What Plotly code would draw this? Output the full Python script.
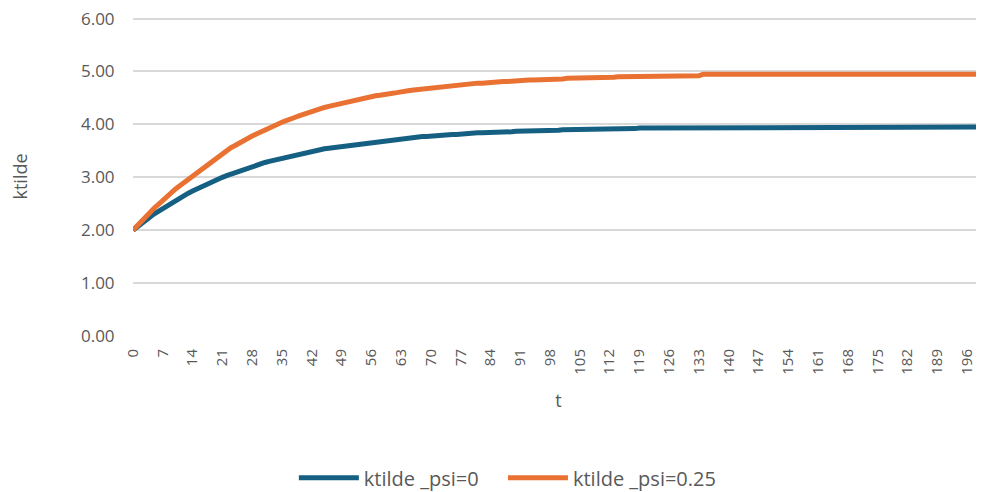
import plotly.graph_objects as go

t = list(range(0, 201))

ktilde_psi0 = [
    2.00, 2.07, 2.13, 2.19, 2.25, 2.31, 2.36, 2.42, 2.47, 2.52,
    2.56, 2.61, 2.66, 2.70, 2.74, 2.78, 2.82, 2.86, 2.90, 2.93,
    2.97, 3.00, 3.03, 3.06, 3.09, 3.12, 3.15, 3.18, 3.20, 3.23,
    3.25, 3.28, 3.30, 3.32, 3.34, 3.36, 3.38, 3.40, 3.42, 3.44,
    3.46, 3.47, 3.49, 3.51, 3.52, 3.54, 3.55, 3.56, 3.58, 3.59,
    3.60, 3.61, 3.63, 3.64, 3.65, 3.66, 3.67, 3.68, 3.69, 3.70,
    3.71, 3.71, 3.72, 3.73, 3.74, 3.74, 3.75, 3.76, 3.77, 3.77,
    3.78, 3.78, 3.79, 3.80, 3.80, 3.81, 3.81, 3.82, 3.82, 3.83,
    3.83, 3.84, 3.84, 3.84, 3.85, 3.85, 3.85, 3.86, 3.86, 3.86,
    3.87, 3.87, 3.87, 3.88, 3.88, 3.88, 3.89, 3.89, 3.89, 3.89,
    3.89, 3.90, 3.90, 3.90, 3.90, 3.90, 3.91, 3.91, 3.91, 3.91,
    3.91, 3.91, 3.92, 3.92, 3.92, 3.92, 3.92, 3.92, 3.92, 3.93,
    3.93, 3.93, 3.93, 3.93, 3.93, 3.93, 3.93,
    3.95, 3.95, 3.95, 3.95, 3.95, 3.95, 3.95, 3.95, 3.95, 3.95,
    3.95, 3.95, 3.95, 3.95, 3.95, 3.95, 3.95, 3.95, 3.95, 3.95,
    3.95, 3.95, 3.95, 3.95, 3.95, 3.95, 3.95, 3.95, 3.95, 3.95,
    3.95, 3.95, 3.95, 3.95, 3.95, 3.95, 3.95, 3.95, 3.95, 3.95,
    3.95, 3.95, 3.95, 3.95, 3.95, 3.95, 3.95, 3.95, 3.95, 3.95,
    3.95, 3.95, 3.95, 3.95, 3.95, 3.95, 3.95, 3.95, 3.95, 3.95,
    3.95, 3.95, 3.95, 3.95, 3.95, 3.95, 3.95, 3.95, 3.95, 3.95,
    3.95, 3.95, 3.95, 3.95,
]

ktilde_psi025 = [
    2.00, 2.09, 2.17, 2.26, 2.34, 2.42, 2.49, 2.57, 2.64, 2.71,
    2.78, 2.84, 2.90, 2.97, 3.03, 3.09, 3.16, 3.22, 3.28, 3.34,
    3.40, 3.45, 3.50, 3.56, 3.60, 3.65, 3.70, 3.74, 3.78, 3.82,
    3.86, 3.90, 3.94, 3.97, 4.01, 4.04, 4.07, 4.11, 4.13, 4.16,
    4.19, 4.22, 4.24, 4.27, 4.29, 4.32, 4.34, 4.36, 4.38, 4.40,
    4.42, 4.44, 4.46, 4.47, 4.49, 4.51, 4.52, 4.54, 4.55, 4.57,
    4.58, 4.59, 4.60, 4.62, 4.63, 4.64, 4.65, 4.66, 4.67, 4.68,
    4.69, 4.70, 4.71, 4.72, 4.73, 4.73, 4.74, 4.75, 4.76, 4.76,
    4.77, 4.78, 4.78, 4.79, 4.79, 4.80, 4.80, 4.81, 4.81, 4.82,
    4.82, 4.83, 4.83, 4.84, 4.84, 4.84, 4.85, 4.85, 4.85, 4.86,
    4.86, 4.86, 4.87, 4.87, 4.87, 4.88, 4.88, 4.88, 4.88, 4.89,
    4.89, 4.89, 4.89, 4.89, 4.90, 4.90, 4.90, 4.90, 4.90, 4.91,
    4.91, 4.91, 4.91, 4.91, 4.91, 4.91, 4.92, 4.92, 4.92, 4.92,
    4.92, 4.92, 4.92, 4.92,
    4.95, 4.95, 4.95, 4.95, 4.95, 4.95, 4.95, 4.95, 4.95, 4.95,
    4.95, 4.95, 4.95, 4.95, 4.95, 4.95, 4.95, 4.95, 4.95, 4.95,
    4.95, 4.95, 4.95, 4.95, 4.95, 4.95, 4.95, 4.95, 4.95, 4.95,
    4.95, 4.95, 4.95, 4.95, 4.95, 4.95, 4.95, 4.95, 4.95, 4.95,
    4.95, 4.95, 4.95, 4.95, 4.95, 4.95, 4.95, 4.95, 4.95, 4.95,
    4.95, 4.95, 4.95, 4.95, 4.95, 4.95, 4.95, 4.95, 4.95, 4.95,
    4.95, 4.95, 4.95, 4.95, 4.95, 4.95, 4.95,
]

x_ticks = list(range(0, 197, 7))
y_ticks = [0, 1, 2, 3, 4, 5, 6]

FONT = "Open Sans"
GRAY = "#595959"

fig = go.Figure()
fig.add_trace(go.Scatter(x=t, y=ktilde_psi0, mode="lines", name="ktilde _psi=0",
                         line=dict(color="#156082", width=5), legend="legend"))
fig.add_trace(go.Scatter(x=t, y=ktilde_psi025, mode="lines", name="ktilde _psi=0.25",
                         line=dict(color="#E97132", width=5), legend="legend2"))

leg_common = dict(orientation="h", xref="container", yref="container",
                  y=0.045, xanchor="left", yanchor="middle",
                  font=dict(size=20, color=GRAY), itemwidth=60,
                  bgcolor="rgba(0,0,0,0)")

fig.update_layout(
    width=984, height=492,
    margin=dict(l=125, r=8, t=9.4, b=164, autoexpand=False),
    paper_bgcolor="white", plot_bgcolor="white",
    font=dict(family=FONT, color=GRAY, size=16),
    showlegend=True,
    legend=dict(x=0.2905, **leg_common),
    legend2=dict(x=0.503, **leg_common),
    xaxis=dict(
        range=[0, 200], tickvals=x_ticks, ticktext=[str(v) for v in x_ticks],
        tickangle=-90, showgrid=False, zeroline=False, showline=False,
        automargin=False,
        ticks="outside", ticklen=6, tickcolor="rgba(0,0,0,0)",
        tickfont=dict(size=15, color=GRAY),
        title=dict(text="t", standoff=20, font=dict(size=18, color=GRAY)),
    ),
    yaxis=dict(
        range=[0, 6.03], tickvals=y_ticks, tickformat=".2f",
        showgrid=True, gridcolor="#d9d9d9", gridwidth=1.5,
        zeroline=False, showline=False, automargin=False,
        ticklabeloverflow="allow",
        ticks="outside", ticklen=14, tickcolor="rgba(0,0,0,0)",
        tickfont=dict(size=17, color=GRAY),
        title=dict(text="ktilde", standoff=50, font=dict(size=18, color=GRAY)),
    ),
)

fig.write_html("out.html")
